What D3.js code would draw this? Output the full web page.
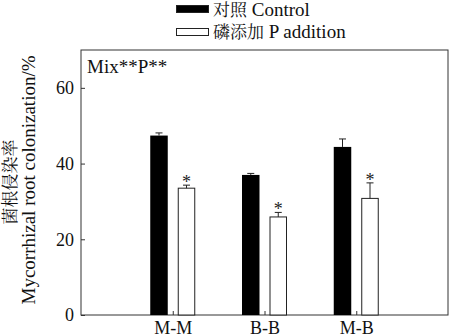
<!DOCTYPE html>
<html>
<head>
<meta charset="utf-8">
<script src="https://cdn.jsdelivr.net/npm/d3@7"></script>
<style>
  html, body { margin: 0; padding: 0; background: #fff; }
  svg { display: block; }
</style>
</head>
<body>
<svg id="chart" width="450" height="336"></svg>
<script>
// Mycorrhizal root colonization (%) under control and P addition
const categories = ["M-M", "B-B", "M-B"];
const controlMean = [47.4, 37.0, 44.4];
const controlErr  = [0.7, 0.4, 2.1];
const pMean       = [33.5, 25.9, 30.8];
const pErr        = [0.8, 1.2, 4.1];
const pSignificant = [true, true, true];
const yTicks = [0, 20, 40, 60];

const SERIF = "'Liberation Serif', 'Times New Roman', 'DejaVu Serif', serif";
const CJK = "'Noto Serif CJK SC', 'Noto Sans CJK SC', 'Noto Sans CJK JP', serif";

const svg = d3.select("#chart").attr("font-family", SERIF);
const m = { left: 81, right: 448, top: 50, bottom: 315 };

const x = d3.scaleLinear().domain([0, categories.length + 1]).range([m.left, m.right]);
const y = d3.scaleLinear().domain([0, 70]).range([m.bottom, m.top]);

const barW = 17.5;
const offC = -22.5, offP = 5;

// frame
svg.append("rect")
  .attr("x", m.left).attr("y", m.top)
  .attr("width", m.right - m.left).attr("height", m.bottom - m.top)
  .attr("fill", "none").attr("stroke", "#333").attr("stroke-width", 1);

// y axis, ticks pointing inward
const yAxis = svg.append("g").attr("transform", `translate(${m.left},0)`)
  .call(d3.axisRight(y).tickValues(yTicks).tickSize(4).tickFormat(d3.format("d")));
yAxis.attr("font-family", SERIF).attr("font-size", 18);
yAxis.select(".domain").remove();
yAxis.selectAll("line").attr("stroke", "#333");
yAxis.selectAll("text")
  .attr("x", -7).attr("text-anchor", "end").attr("fill", "#111");

// x axis, category ticks pointing inward
const xAxis = svg.append("g").attr("transform", `translate(0,${m.bottom})`)
  .call(d3.axisTop(x).tickValues(d3.range(1, categories.length + 1)).tickSize(4)
    .tickFormat(i => categories[i - 1]));
xAxis.attr("font-family", SERIF).attr("font-size", 18);
xAxis.select(".domain").remove();
xAxis.selectAll("line").attr("stroke", "#333");
xAxis.selectAll("text")
  .attr("y", 18.5).attr("dy", 0).attr("fill", "#111");

const idx = d3.range(categories.length);

// control bars
svg.append("g").selectAll("rect").data(idx).join("rect")
  .attr("x", i => x(i + 1) + offC).attr("width", barW)
  .attr("y", i => y(controlMean[i])).attr("height", i => y(0) - y(controlMean[i]))
  .attr("fill", "#000");

// P addition bars
svg.append("g").selectAll("rect").data(idx).join("rect")
  .attr("x", i => x(i + 1) + offP + 0.5).attr("width", barW - 1)
  .attr("y", i => y(pMean[i])).attr("height", i => y(0) - y(pMean[i]))
  .attr("fill", "#fff").attr("stroke", "#222").attr("stroke-width", 1);

// error bars (upper only)
function errBars(mean, err, off) {
  const g = svg.append("g").attr("stroke", "#222").attr("stroke-width", 1);
  idx.forEach(i => {
    const cx = x(i + 1) + off + barW / 2;
    g.append("line").attr("x1", cx).attr("x2", cx)
      .attr("y1", y(mean[i])).attr("y2", y(mean[i] + err[i]));
    g.append("line").attr("x1", cx - 3.5).attr("x2", cx + 3.5)
      .attr("y1", y(mean[i] + err[i])).attr("y2", y(mean[i] + err[i]));
  });
}
errBars(controlMean, controlErr, offC);
errBars(pMean, pErr, offP);

// significance stars
svg.append("g").selectAll("text").data(idx.filter(i => pSignificant[i])).join("text")
  .attr("x", i => x(i + 1) + offP + barW / 2)
  .attr("y", i => y(pMean[i] + pErr[i]) + 3)
  .attr("text-anchor", "middle")
  .attr("font-size", 18).attr("fill", "#222")
  .text("*");

// annotation
svg.append("text").attr("x", 87).attr("y", 72.5)
  .attr("font-size", 19).attr("fill", "#111").text("Mix**P**");

// legend
const legend = [
  { fill: "#000", label: "对照", en: " Control", y: 5, base: 15.5 },
  { fill: "#fff", label: "磷添加", en: " P addition", y: 28, base: 37.5 }
];
const lg = svg.append("g");
legend.forEach(d => {
  lg.append("rect").attr("x", 176.5).attr("y", d.y + 0.5).attr("width", 32).attr("height", 7)
    .attr("fill", d.fill).attr("stroke", "#222").attr("stroke-width", 1);
  const t = lg.append("text").attr("x", 213).attr("y", d.base)
    .attr("font-size", 19).attr("fill", "#111");
  t.append("tspan").attr("font-family", CJK).attr("font-size", 17).text(d.label);
  t.append("tspan").text(d.en);
});

// y axis titles
svg.append("text")
  .attr("transform", "translate(15.5,182) rotate(-90)")
  .attr("text-anchor", "middle").attr("font-family", CJK)
  .attr("font-size", 17).attr("fill", "#111").text("菌根侵染率");
svg.append("text")
  .attr("transform", "translate(35,180) rotate(-90)")
  .attr("text-anchor", "middle")
  .attr("font-size", 19).attr("fill", "#111").text("Mycorrhizal root colonization/%");
</script>
</body>
</html>
